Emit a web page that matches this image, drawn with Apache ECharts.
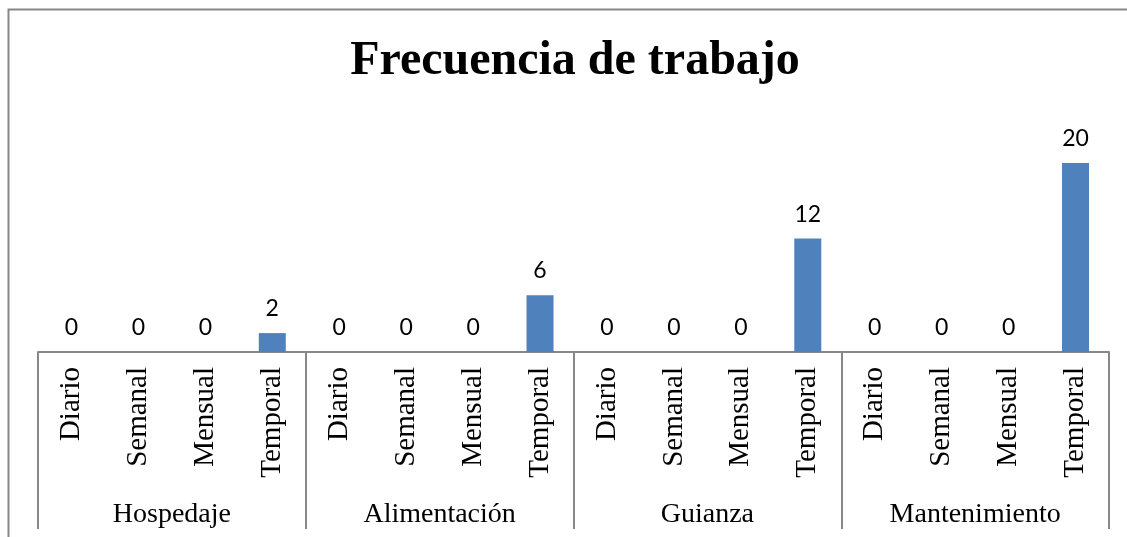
<!DOCTYPE html>
<html>
<head>
<meta charset="utf-8">
<script src="https://cdn.jsdelivr.net/npm/echarts@6/dist/echarts.min.js"></script>
<style>
html,body{margin:0;padding:0;background:#fff;}
#chart{width:1127px;height:537px;}
</style>
</head>
<body>
<div id="chart"></div>
<script>
const titleText = 'Frecuencia de trabajo';
const groups = ['Hospedaje', 'Alimentación', 'Guianza', 'Mantenimiento'];
const frequencies = ['Diario', 'Semanal', 'Mensual', 'Temporal'];
const hospedaje = [0, 0, 0, 2];
const alimentacion = [0, 0, 0, 6];
const guianza = [0, 0, 0, 12];
const mantenimiento = [0, 0, 0, 20];

const groupValues = [hospedaje, alimentacion, guianza, mantenimiento];
const categories = [];
const values = [];
groupValues.forEach(function (arr) {
  arr.forEach(function (v, i) {
    categories.push(frequencies[i]);
    values.push(v);
  });
});

const chart = echarts.init(document.getElementById('chart'));
chart.setOption({
  animation: false,
  backgroundColor: '#ffffff',
  title: {
    text: titleText,
    left: 570,
    top: 33,
    textAlign: 'center',
    textStyle: {
      fontFamily: '"Liberation Serif", "Times New Roman", serif',
      fontWeight: 'bold',
      fontSize: 48,
      color: '#000'
    }
  },
  graphic: [{
    type: 'polyline',
    shape: { points: [[8.5, 537], [8.5, 9.5], [1127, 9.5]] },
    style: { stroke: '#878787', lineWidth: 2, fill: null },
    silent: true
  }],
  grid: { left: 38, right: 18, top: 163, bottom: 185 },
  xAxis: [{
    type: 'category',
    data: categories,
    position: 'bottom',
    axisLine: { show: true, lineStyle: { color: '#878787', width: 2 } },
    axisTick: { show: false },
    axisLabel: {
      interval: 0,
      rotate: 90,
      margin: 15,
      fontFamily: '"Liberation Serif", "Times New Roman", serif',
      fontSize: 29,
      color: '#000'
    }
  }, {
    type: 'category',
    data: groups,
    position: 'bottom',
    axisLine: { show: false },
    axisTick: { show: true, length: 177, lineStyle: { color: '#878787', width: 2 } },
    axisLabel: {
      interval: 0,
      margin: 149,
      fontFamily: '"Liberation Serif", "Times New Roman", serif',
      fontSize: 28,
      color: '#000'
    }
  }],
  yAxis: { type: 'value', min: 0, max: 20, show: false },
  series: [{
    type: 'bar',
    xAxisIndex: 0,
    data: values,
    barWidth: 27,
    itemStyle: { color: '#4F81BD' },
    label: {
      show: true,
      position: 'top',
      distance: 13,
      fontFamily: 'Lato, "Open Sans", sans-serif',
      fontSize: 23,
      color: '#000'
    }
  }]
});
</script>
</body>
</html>
